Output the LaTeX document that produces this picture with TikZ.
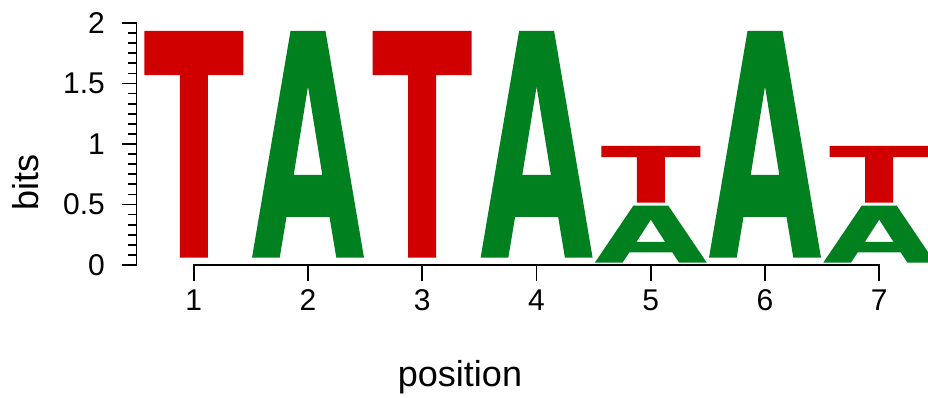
\documentclass[tikz,border=0pt]{standalone}
\usepackage{fontspec}
\setmainfont{Liberation Sans}
\definecolor{logored}{RGB}{208,0,0}
\definecolor{logogreen}{RGB}{0,128,30}
\newcommand{\letT}[3]{\fill[logored] ({#1-49.5},{#2-#3}) -- ({#1+49.5},{#2-#3}) -- ({#1+49.5},{#2-0.805*#3}) -- ({#1+14},{#2-0.805*#3}) -- ({#1+14},#2) -- ({#1-14},#2) -- ({#1-14},{#2-0.805*#3}) -- ({#1-49.5},{#2-0.805*#3}) -- cycle;}
\newcommand{\letA}[3]{\fill[logogreen,even odd rule] ({#1-56},#2) -- ({#1-17.5},{#2-#3}) -- ({#1+17.5},{#2-#3}) -- ({#1+56},#2) -- ({#1+28.3},#2) -- ({#1+21.5},{#2-0.18*#3}) -- ({#1-21.5},{#2-0.18*#3}) -- ({#1-28.3},#2) -- cycle ({#1-14.3},{#2-0.365*#3}) -- (#1,{#2-0.755*#3}) -- ({#1+14.3},{#2-0.365*#3}) -- cycle;}

\begin{document}
\begin{tikzpicture}[x=1pt,y=-1pt,
  axis/.style={line width=1.8pt},
  ticklab/.style={font=\fontsize{30}{36}\selectfont,inner sep=0pt},
  title/.style={font=\fontsize{36}{43}\selectfont,inner sep=0pt}]
\useasboundingbox (0,0) rectangle (928,398);
\clip (0,0) rectangle (928,398);
\letT{193.8}{257.7}{226.7}
\letA{308}{257.7}{226.7}
\letT{422.2}{257.7}{226.7}
\letA{536.6}{257.7}{226.7}
\letA{650.8}{262.7}{57}
\letT{650.8}{202.7}{56.7}
\letA{765}{257.7}{226.7}
\letA{879.2}{262.7}{57}
\letT{879.2}{202.7}{56.7}
\draw[axis] (136.5,22.1) -- (136.5,265.9);
\foreach \i in {0,...,24}
  \draw[axis] (128,{265-\i*10.083}) -- (136.5,{265-\i*10.083});
\foreach \v/\l in {0/0,6/0.5,12/1,18/1.5,24/2}{
  \draw[axis] (122,{265-\v*10.083}) -- (136.5,{265-\v*10.083});
  \node[ticklab,anchor=east] (y\v) at (105,{265-\v*10.083}) {\l};
}
\draw[axis] (193.8,280.7) -- (193.8,265) -- (879.2,265) -- (879.2,280.7);
\foreach \i in {1,...,7}{
  \draw[axis] ({193.8+(\i-1)*114.23},265) -- ({193.8+(\i-1)*114.23},280.7);
  \node[ticklab] (x\i) at ({193.8+(\i-1)*114.23},300.5) {\i};
}
\node[title,anchor=base] (position) at (460,386.7) {position};
\node[title,anchor=base,rotate=90] (bits) at (38,182.5) {bits};
\end{tikzpicture}
\end{document}
